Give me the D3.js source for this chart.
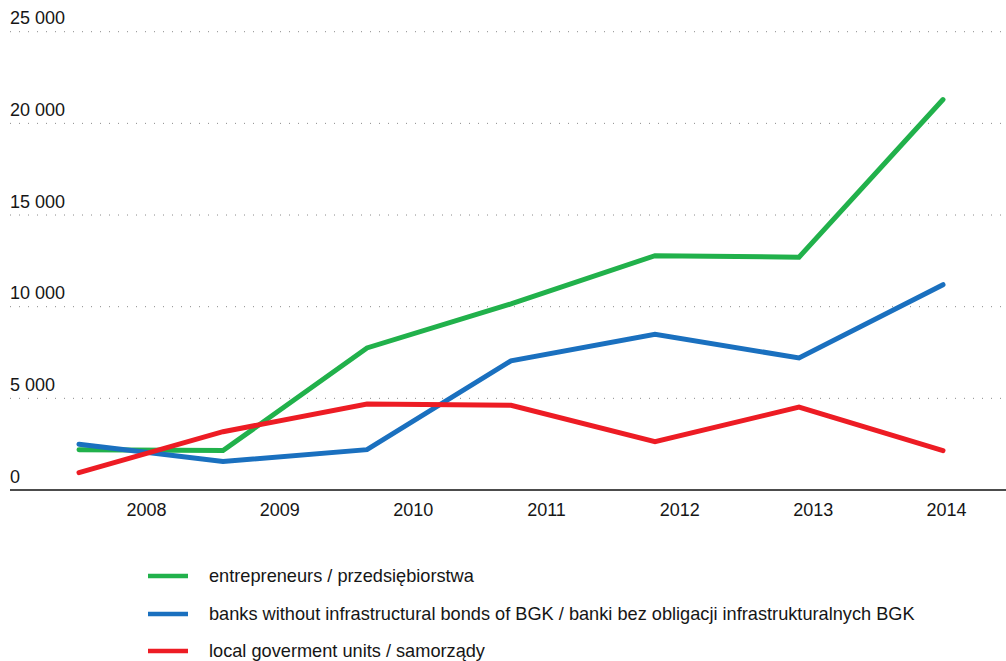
<!DOCTYPE html>
<html>
<head>
<meta charset="utf-8">
<script src="https://cdn.jsdelivr.net/npm/d3@7"></script>
<style>
  html, body { margin: 0; padding: 0; background: #fff; }
  svg { display: block; font-family: "Liberation Sans", Arial, Helvetica, sans-serif; }
</style>
</head>
<body>
<svg id="chart" width="1006" height="661"></svg>
<script>
// Years on the horizontal axis
const years = ["2008", "2009", "2010", "2011", "2012", "2013", "2014"];

// Series values (PLN m)
const entrepreneurs = [2200, 2150, 7750, 10150, 12780, 12700, 21300];
const banks = [2500, 1550, 2200, 7050, 8500, 7200, 11200];
const localGov = [950, 3180, 4690, 4620, 2640, 4520, 2150];

// Y axis ticks
const yTicks = [0, 5000, 10000, 15000, 20000, 25000];

const seriesNames = [
  "entrepreneurs / przedsiębiorstwa",
  "banks without infrastructural bonds of BGK / banki bez obligacji infrastrukturalnych BGK",
  "local goverment units / samorządy"
];
const seriesColors = ["#21b14b", "#1a70bf", "#ed1c24"];
const seriesValues = [entrepreneurs, banks, localGov];

const svg = d3.select("#chart");

const plotLeft = 10, plotRight = 1006, plotTop = 31.7, plotBottom = 490;
const textColor = "#161616";

const y = d3.scaleLinear().domain([0, 25000]).range([plotBottom, plotTop]);
// Line vertices and year labels are laid out on separate point scales
const xLine = d3.scalePoint().domain(years).range([79, 943]);
const xLabel = d3.scalePoint().domain(years).range([146, 946]);

const locale = d3.formatLocale({ decimal: ",", thousands: " ", grouping: [3], currency: ["", ""] });
const fmt = locale.format(",d");

// Dotted gridlines
svg.append("g")
  .selectAll("line")
  .data(yTicks.filter(d => d > 0))
  .join("line")
  .attr("x1", plotLeft).attr("x2", plotRight)
  .attr("y1", d => y(d)).attr("y2", d => y(d))
  .attr("stroke", "#8a8a8a")
  .attr("stroke-width", 1)
  .attr("stroke-dasharray", "1,8");

// Y labels sitting above each gridline
const yAxis = d3.axisRight(y).tickValues(yTicks).tickSize(0).tickPadding(0).tickFormat(fmt);
const gy = svg.append("g").attr("transform", `translate(${plotLeft},0)`).call(yAxis);
gy.select(".domain").remove();
gy.selectAll("text")
  .attr("dy", -8)
  .attr("text-anchor", "start")
  .attr("x", 0)
  .attr("font-size", 18)
  .attr("font-family", "Liberation Sans, Arial, sans-serif")
  .attr("fill", textColor);

// Baseline
svg.append("line")
  .attr("x1", plotLeft).attr("x2", plotRight)
  .attr("y1", y(0)).attr("y2", y(0))
  .attr("stroke", "#111")
  .attr("stroke-width", 1.5);

// Year labels
const xAxis = d3.axisBottom(xLabel).tickSize(0).tickPadding(0);
const gx = svg.append("g").attr("transform", `translate(0,${y(0)})`).call(xAxis);
gx.select(".domain").remove();
gx.selectAll("text")
  .attr("y", 26)
  .attr("dy", 0)
  .attr("font-size", 18)
  .attr("font-family", "Liberation Sans, Arial, sans-serif")
  .attr("fill", textColor);

// Series lines
const line = d3.line()
  .x((d, i) => xLine(years[i]))
  .y(d => y(d));

svg.append("g")
  .selectAll("path")
  .data(seriesValues)
  .join("path")
  .attr("d", d => line(d))
  .attr("fill", "none")
  .attr("stroke", (d, i) => seriesColors[i])
  .attr("stroke-width", 5)
  .attr("stroke-linecap", "round")
  .attr("stroke-linejoin", "miter");

// Legend
const legendY = [576, 614, 651];
const legend = svg.append("g");
const items = legend.selectAll("g")
  .data(seriesNames)
  .join("g")
  .attr("transform", (d, i) => `translate(148,${legendY[i]})`);
items.append("line")
  .attr("x1", 0).attr("x2", 40)
  .attr("y1", 0).attr("y2", 0)
  .attr("stroke", (d, i) => seriesColors[i])
  .attr("stroke-width", 4.5);
items.append("text")
  .attr("x", 61)
  .attr("y", 6)
  .attr("font-size", 18.2)
  .attr("fill", textColor)
  .text(d => d);
</script>
</body>
</html>
